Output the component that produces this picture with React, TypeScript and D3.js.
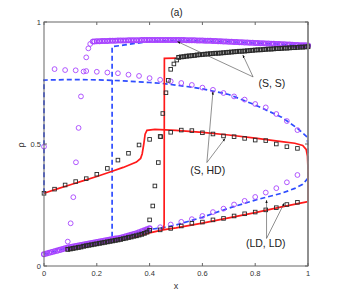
import React from "react";
import * as d3 from "d3";

// x positions of tick labels and rho ticks
const xTicks = [0, 0.2, 0.4, 0.6, 0.8, 1];
const yTicks = [0, 0.5, 1];

// dense purple circles, upper (S, S) branch
const purpleTop: [number, number][] = [
  [0.19, 0.92], [0.2, 0.921], [0.21, 0.921], [0.22, 0.922], [0.23, 0.922], [0.24, 0.922], [0.25, 0.923],
  [0.26, 0.923], [0.27, 0.923], [0.28, 0.924], [0.29, 0.924], [0.3, 0.924], [0.31, 0.924], [0.32, 0.925],
  [0.33, 0.925], [0.34, 0.925], [0.35, 0.925], [0.36, 0.925], [0.37, 0.926], [0.38, 0.926], [0.39, 0.926],
  [0.4, 0.926], [0.41, 0.926], [0.42, 0.926], [0.43, 0.926], [0.44, 0.926], [0.45, 0.926], [0.46, 0.926],
  [0.47, 0.926], [0.48, 0.926], [0.49, 0.926], [0.5, 0.926], [0.51, 0.926], [0.52, 0.926], [0.53, 0.926],
  [0.54, 0.925], [0.55, 0.925], [0.56, 0.925], [0.57, 0.925], [0.58, 0.924], [0.59, 0.924], [0.6, 0.924],
  [0.61, 0.923], [0.62, 0.923], [0.63, 0.923], [0.64, 0.922], [0.65, 0.922], [0.66, 0.921], [0.67, 0.921],
  [0.68, 0.92], [0.69, 0.92], [0.7, 0.919], [0.71, 0.919], [0.72, 0.918], [0.73, 0.918], [0.74, 0.917],
  [0.75, 0.917], [0.76, 0.916], [0.77, 0.916], [0.78, 0.915], [0.79, 0.915], [0.8, 0.914], [0.81, 0.914],
  [0.82, 0.913], [0.83, 0.913], [0.84, 0.912], [0.85, 0.912], [0.86, 0.911], [0.87, 0.911], [0.88, 0.91],
  [0.89, 0.91], [0.9, 0.909], [0.91, 0.909], [0.92, 0.908], [0.93, 0.908], [0.94, 0.907], [0.95, 0.906],
  [0.96, 0.906], [0.97, 0.905], [0.98, 0.904], [0.99, 0.904], [1.0, 0.903],
];

// dense purple circles, lower branch
const purpleLow: [number, number][] = [
  [0, 0.048], [0.01, 0.051], [0.02, 0.054], [0.03, 0.057], [0.04, 0.06], [0.05, 0.063], [0.06, 0.066],
  [0.07, 0.069], [0.08, 0.073], [0.09, 0.076], [0.1, 0.078], [0.11, 0.08], [0.12, 0.082], [0.13, 0.084],
  [0.14, 0.086], [0.15, 0.088], [0.16, 0.09], [0.17, 0.092], [0.18, 0.094], [0.19, 0.096], [0.2, 0.098],
  [0.21, 0.1], [0.22, 0.102], [0.23, 0.104], [0.24, 0.106], [0.25, 0.108], [0.26, 0.11], [0.27, 0.112],
  [0.28, 0.114], [0.29, 0.116], [0.3, 0.119], [0.31, 0.122], [0.32, 0.125], [0.33, 0.128], [0.34, 0.131],
  [0.35, 0.134], [0.36, 0.138], [0.37, 0.142], [0.38, 0.146], [0.39, 0.15], [0.4, 0.154],
];

// sparse purple circles
const purpleRise: [number, number][] = [
  [0, 0.489], [0.09, 0.1], [0.101, 0.175], [0.111, 0.282], [0.121, 0.425], [0.131, 0.566],
  [0.14, 0.695], [0.15, 0.797], [0.16, 0.855], [0.168, 0.892], [0.175, 0.91], [0.184, 0.92],
];
const purpleSHD: [number, number][] = [
  [0.04, 0.807], [0.08, 0.803], [0.12, 0.802], [0.16, 0.799], [0.2, 0.796], [0.24, 0.793], [0.28, 0.79],
  [0.32, 0.784], [0.36, 0.779], [0.4, 0.77], [0.44, 0.763], [0.48, 0.757], [0.52, 0.75], [0.56, 0.742],
  [0.6, 0.731], [0.64, 0.722], [0.68, 0.709], [0.72, 0.695], [0.76, 0.682], [0.8, 0.664], [0.84, 0.65],
  [0.88, 0.623], [0.92, 0.594], [0.96, 0.557],
];
const purpleLD: [number, number][] = [
  [0.44, 0.159], [0.48, 0.17], [0.52, 0.181], [0.56, 0.192], [0.6, 0.205], [0.64, 0.221], [0.68, 0.235],
  [0.72, 0.252], [0.76, 0.267], [0.8, 0.283], [0.84, 0.301], [0.88, 0.319], [0.92, 0.343], [0.96, 0.373],
];

// squares
const squareLow: [number, number][] = [
  [0.09, 0.068], [0.1, 0.07], [0.11, 0.072], [0.12, 0.074], [0.13, 0.076], [0.14, 0.078], [0.15, 0.081],
  [0.16, 0.083], [0.17, 0.085], [0.18, 0.087], [0.19, 0.089], [0.2, 0.091], [0.21, 0.093], [0.22, 0.095],
  [0.23, 0.097], [0.24, 0.099], [0.25, 0.101], [0.26, 0.103], [0.27, 0.105], [0.28, 0.107], [0.29, 0.109],
  [0.3, 0.112], [0.31, 0.114], [0.32, 0.117], [0.33, 0.119], [0.34, 0.122], [0.35, 0.124], [0.36, 0.127],
  [0.37, 0.13], [0.38, 0.134], [0.39, 0.139], [0.4, 0.146],
];
const squareRise: [number, number][] = [
  [0.4, 0.189], [0.412, 0.246], [0.42, 0.328], [0.433, 0.424], [0.442, 0.53], [0.45, 0.625],
  [0.462, 0.71], [0.471, 0.761], [0.48, 0.806], [0.492, 0.828], [0.503, 0.844],
];
const squareTop: [number, number][] = [
  [0.51, 0.855], [0.52, 0.857], [0.53, 0.858], [0.54, 0.86], [0.55, 0.861], [0.56, 0.862], [0.57, 0.863],
  [0.58, 0.865], [0.59, 0.866], [0.6, 0.867], [0.61, 0.868], [0.62, 0.869], [0.63, 0.87], [0.64, 0.871],
  [0.65, 0.872], [0.66, 0.872], [0.67, 0.873], [0.68, 0.874], [0.69, 0.875], [0.7, 0.876], [0.71, 0.877],
  [0.72, 0.878], [0.73, 0.879], [0.74, 0.88], [0.75, 0.88], [0.76, 0.881], [0.77, 0.882], [0.78, 0.883],
  [0.79, 0.884], [0.8, 0.885], [0.81, 0.886], [0.82, 0.886], [0.83, 0.887], [0.84, 0.888], [0.85, 0.889],
  [0.86, 0.889], [0.87, 0.89], [0.88, 0.891], [0.89, 0.891], [0.9, 0.892], [0.91, 0.893], [0.92, 0.893],
  [0.93, 0.894], [0.94, 0.895], [0.95, 0.895], [0.96, 0.896], [0.97, 0.897], [0.98, 0.897], [0.99, 0.898],
  [1.0, 0.899],
];
const squareSHD: [number, number][] = [
  [0, 0.298], [0.04, 0.315], [0.08, 0.332], [0.12, 0.346], [0.16, 0.358], [0.2, 0.376], [0.24, 0.4],
  [0.28, 0.434], [0.32, 0.462], [0.36, 0.496], [0.4, 0.519], [0.44, 0.531], [0.48, 0.548], [0.52, 0.557],
  [0.56, 0.555], [0.6, 0.546], [0.64, 0.541], [0.68, 0.533], [0.72, 0.53], [0.76, 0.523], [0.8, 0.516],
  [0.84, 0.514], [0.88, 0.5], [0.92, 0.489], [0.96, 0.482],
];
const squareLD: [number, number][] = [
  [0.44, 0.148], [0.48, 0.154], [0.52, 0.164], [0.56, 0.175], [0.6, 0.18], [0.64, 0.189], [0.68, 0.195],
  [0.72, 0.205], [0.76, 0.214], [0.8, 0.221], [0.84, 0.23], [0.88, 0.239], [0.92, 0.252], [0.96, 0.261],
];

// red solid curves
const redSHD: [number, number][] = [
  [0, 0.298], [0.05, 0.316], [0.1, 0.333], [0.15, 0.35], [0.2, 0.367], [0.25, 0.385], [0.3, 0.404],
  [0.35, 0.426], [0.366, 0.441], [0.372, 0.46], [0.378, 0.5], [0.383, 0.54], [0.39, 0.556], [0.42, 0.56],
  [0.5, 0.556], [0.6, 0.548], [0.7, 0.537], [0.8, 0.524], [0.9, 0.51], [0.95, 0.503], [0.98, 0.494],
  [0.993, 0.478], [0.998, 0.45], [1, 0.4], [1, 0.264],
];
const redLow: [number, number][] = [
  [0.09, 0.066], [0.2, 0.089], [0.3, 0.11], [0.36, 0.124], [0.4, 0.136], [0.45, 0.148], [0.5, 0.156],
  [0.6, 0.176], [0.7, 0.197], [0.8, 0.219], [0.9, 0.242], [1, 0.264],
];
const redJump: [number, number][] = [[0.452, 0.15], [0.455, 0.17], [0.456, 0.851], [0.5, 0.852]];

// blue dashed curves
const blueSHD: [number, number][] = [
  [0, 0.298], [0, 0.762], [0.1, 0.764], [0.2, 0.763], [0.3, 0.759], [0.4, 0.752], [0.45, 0.748],
  [0.5, 0.741], [0.56, 0.733], [0.6, 0.726], [0.7, 0.703], [0.8, 0.66], [0.9, 0.61], [0.96, 0.564],
  [0.995, 0.53], [1, 0.5], [1, 0.36],
];
const blueLow: [number, number][] = [
  [1, 0.36], [0.98, 0.335], [0.95, 0.318], [0.9, 0.298], [0.8, 0.27], [0.7, 0.237], [0.6, 0.2],
  [0.5, 0.168], [0.45, 0.157], [0.4, 0.15], [0.3, 0.118], [0.2, 0.097], [0.1, 0.077], [0, 0.048],
];
const blueJump: [number, number][] = [
  [0.258, 0.12], [0.258, 0.899], [0.3, 0.905], [0.35, 0.913], [0.4, 0.92], [0.5, 0.925], [0.7, 0.919],
  [1, 0.903],
];

// annotations: label, label position (data), arrow tips (data)
const labels = ["(S, S)", "(S, HD)", "(LD, LD)"];
const labelPos: [number, number][] = [[0.863, 0.745], [0.62, 0.387], [0.84, 0.09]];
const arrowFrom: [number, number][] = [[0.792, 0.775], [0.617, 0.424], [0.843, 0.113]];
const arrowTips: [number, number][][] = [
  [[0.505, 0.92], [0.753, 0.865]],
  [[0.64, 0.715], [0.686, 0.523]],
  [[0.843, 0.27], [0.91, 0.258]],
];

const W = 341;
const H = 300;
const M = { left: 44, top: 22, right: 308, bottom: 266 };

const PURPLE = "#a845ff";
const BLUE = "#2f4dff";
const RED = "#ff1a1a";

export default function App() {
  const x = d3.scaleLinear().domain([0, 1]).range([M.left, M.right]);
  const y = d3.scaleLinear().domain([0, 1]).range([M.bottom, M.top]);
  const line = d3.line<[number, number]>().x((d) => x(d[0])).y((d) => y(d[1]));

  // dense series get a slightly heavier stroke so the bands read solid
  const circles = (data: [number, number][], key: string, sw = 0.9) =>
    data.map((d, i) => (
      <circle key={key + i} cx={x(d[0])} cy={y(d[1])} r={2.4} fill="none" stroke={PURPLE} strokeWidth={sw} />
    ));
  const squares = (data: [number, number][], key: string, sw = 0.9) =>
    data.map((d, i) => (
      <rect key={key + i} x={x(d[0]) - 1.8} y={y(d[1]) - 1.8} width={3.6} height={3.6}
        fill="none" stroke="#2a2a2a" strokeWidth={sw} />
    ));

  return (
    <svg width={W} height={H} style={{ position: "absolute", left: 0, top: 0 }}
      fontFamily="'Liberation Sans', Arial, sans-serif">
      <rect width={W} height={H} fill="#fff" />

      {/* blue dashed */}
      {[blueSHD, blueLow, blueJump].map((d, i) => (
        <path key={"b" + i} d={line(d) || ""} fill="none" stroke={BLUE} strokeWidth={1.7} strokeDasharray="5,3" />
      ))}
      {/* red solid */}
      {[redSHD, redLow, redJump].map((d, i) => (
        <path key={"r" + i} d={line(d) || ""} fill="none" stroke={RED} strokeWidth={1.7} />
      ))}

      {circles(purpleLow, "pl", 1.3)}
      {circles(purpleTop, "pt", 1.3)}
      {circles(purpleRise, "pr")}
      {circles(purpleSHD, "ps")}
      {circles(purpleLD, "pd")}

      {squares(squareLow, "sl", 1.2)}
      {squares(squareRise, "sr")}
      {squares(squareTop, "st", 1.2)}
      {squares(squareSHD, "ss")}
      {squares(squareLD, "sd")}

      {/* frame */}
      <rect x={M.left} y={M.top} width={M.right - M.left} height={M.bottom - M.top} fill="none" stroke="#666" strokeWidth={1} />
      <line x1={M.right} x2={M.right} y1={M.top} y2={M.bottom} stroke="#888" strokeWidth={1.6} />
      {xTicks.map((t) => (
        <g key={"xt" + t}>
          <line x1={x(t)} x2={x(t)} y1={M.bottom} y2={M.bottom - 3} stroke="#666" />
          <line x1={x(t)} x2={x(t)} y1={M.top} y2={M.top + 3} stroke="#666" />
          <text x={x(t)} y={M.bottom + 10} fontSize={7.5} textAnchor="middle" fill="#333">{t}</text>
        </g>
      ))}
      {yTicks.map((t) => (
        <g key={"yt" + t}>
          <line x1={M.left} x2={M.left + 3} y1={y(t)} y2={y(t)} stroke="#666" />
          <line x1={M.right} x2={M.right - 3} y1={y(t)} y2={y(t)} stroke="#666" />
          <text x={M.left - 3} y={y(t) + 3} fontSize={7.5} textAnchor="end" fill="#333">{t}</text>
        </g>
      ))}

      <text x={176} y={289} fontSize={9} textAnchor="middle" fill="#333">x</text>
      <text transform="translate(24,145) rotate(-90)" fontSize={9} textAnchor="middle" fill="#333">ρ</text>
      <text x={176.5} y={16} fontSize={10} textAnchor="middle" fill="#222">(a)</text>

      {/* annotations */}
      <defs>
        <marker id="ah" viewBox="0 0 10 10" refX={10} refY={5} markerWidth={5} markerHeight={5} orient="auto">
          <path d="M0,1 L10,5 L0,9 z" fill="#111" />
        </marker>
      </defs>
      {labels.map((lab, i) => (
        <g key={"an" + i}>
          {arrowTips[i].map((tip, j) => (
            <line key={j} x1={x(arrowFrom[i][0])} y1={y(arrowFrom[i][1])} x2={x(tip[0])} y2={y(tip[1])}
              stroke="#444" strokeWidth={0.6} markerEnd="url(#ah)" />
          ))}
          <text x={x(labelPos[i][0])} y={y(labelPos[i][1])} fontSize={10.5} textAnchor="middle" fill="#222"
            dominantBaseline="middle">{lab}</text>
        </g>
      ))}
    </svg>
  );
}
